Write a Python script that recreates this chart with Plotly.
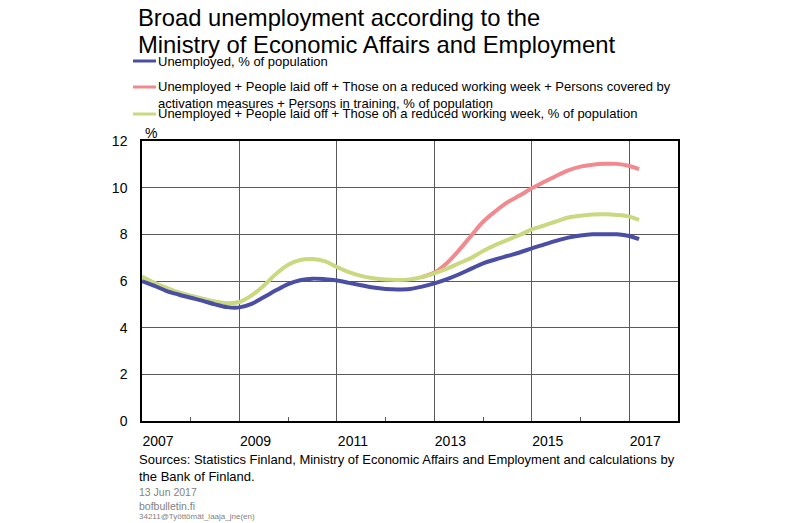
import pandas as pd
import plotly.graph_objects as go

# Quarterly readings, Jan 2007 .. Jan 2017, plus the last point in March 2017
dates = list(pd.date_range("2007-01-01", "2017-01-01", freq="QS")) + [pd.Timestamp("2017-03-15")]

unemployed = [6.00, 5.80, 5.58, 5.42, 5.28, 5.15, 5.00, 4.88,
              4.87, 5.02, 5.30, 5.60, 5.87, 6.03, 6.10, 6.08,
              6.02, 5.92, 5.82, 5.72, 5.66, 5.64, 5.66, 5.76,
              5.90, 6.07, 6.28, 6.52, 6.76, 6.92, 7.07, 7.22,
              7.40, 7.56, 7.72, 7.86, 7.95, 8.00, 8.00, 8.00,
              7.93, 7.79]

laid_off = [6.19, 5.93, 5.72, 5.52, 5.37, 5.24, 5.12, 5.05,
            5.10, 5.38, 5.80, 6.30, 6.70, 6.90, 6.94, 6.85,
            6.60, 6.38, 6.22, 6.12, 6.06, 6.04, 6.07, 6.17,
            6.33, 6.52, 6.75, 6.98, 7.29, 7.54, 7.76, 7.97,
            8.21, 8.37, 8.55, 8.72, 8.80, 8.85, 8.86, 8.83,
            8.76, 8.62]

# broad measure only from late 2012
broad_dates = dates[23:]
broad = [6.17, 6.36, 6.75, 7.30, 7.92, 8.54, 8.98, 9.37, 9.66,
         9.97, 10.24, 10.50, 10.74, 10.90, 10.98, 11.02, 11.02,
         10.93, 10.79]

year_ticks = ["2007-01-01", "2009-01-01", "2011-01-01", "2013-01-01", "2015-01-01", "2017-01-01"]
year_labels = ["2007", "2009", "2011", "2013", "2015", "2017"]
minor_ticks = ["2008-01-01", "2010-01-01", "2012-01-01", "2014-01-01", "2016-01-01"]

title_lines = ["Broad unemployment according to the", "Ministry of Economic Affairs and Employment"]
legend_names = [
    "Unemployed, % of population",
    "Unemployed + People laid off + Those on a reduced working week + Persons covered by<br>"
    "activation measures + Persons in training, % of population",
    "Unemployed + People laid off + Those on a reduced working week, % of population",
]

BLUE = "rgb(75,78,165)"
PINK = "rgb(242,137,142)"
GREEN = "rgb(202,216,128)"
GRID = "rgb(90,90,90)"
GREY_TXT = "rgb(130,130,130)"
FONT = "Liberation Sans, Arial, sans-serif"

# plot area in pixels
L, R, T, B = 142, 678, 141, 421


def px_x(x):
    return (x - L) / (R - L)


def px_y(y):
    return (B - y) / (B - T)


fig = go.Figure()
fig.add_trace(go.Scatter(x=broad_dates, y=broad, mode="lines", name=legend_names[1],
                         line=dict(color=PINK, width=4, shape="spline")))
fig.add_trace(go.Scatter(x=dates, y=laid_off, mode="lines", name=legend_names[2],
                         line=dict(color=GREEN, width=4, shape="spline")))
fig.add_trace(go.Scatter(x=dates, y=unemployed, mode="lines", name=legend_names[0],
                         line=dict(color=BLUE, width=4, shape="spline")))

fig.update_layout(
    width=800, height=523,
    margin=dict(l=L, r=800 - R, t=T, b=523 - B, autoexpand=False),
    plot_bgcolor="white", paper_bgcolor="white",
    showlegend=False,
    font=dict(family=FONT, color="black", size=14),
)

fig.update_xaxes(
    type="date", range=["2007-01-01", "2018-01-01"],
    tickvals=year_ticks, ticktext=year_labels,
    showgrid=True, gridcolor=GRID, gridwidth=1,
    showline=True, linecolor="black", linewidth=1.5, mirror=True,
    ticks="", ticklabelshift=16, ticklabelstandoff=6,
    tickfont=dict(size=14),
    minor=dict(tickvals=minor_ticks, ticks="inside", ticklen=4, tickcolor=GRID, showgrid=False),
)
fig.update_yaxes(
    range=[0, 12], dtick=2,
    showgrid=True, gridcolor=GRID, gridwidth=1,
    showline=True, linecolor="black", linewidth=1.5, mirror=True,
    ticks="", ticklabelstandoff=10, zeroline=False,
    tickfont=dict(size=14),
)

# title: two separate lines so the spacing matches the original (tighter than plotly's)
for i, line in enumerate(title_lines):
    fig.add_annotation(text=line, xref="paper", yref="paper", x=px_x(136), y=px_y(2 + 27 * i),
                       xanchor="left", yanchor="top", align="left", showarrow=False,
                       font=dict(size=23.8))

# hand-placed legend above the plot
legend_rows = [(61, 62, BLUE), (87, 95, PINK), (114, 114, GREEN)]
for (line_y, text_y, color), name in zip(legend_rows, legend_names):
    fig.add_shape(type="line", xref="paper", yref="paper",
                  x0=px_x(133), x1=px_x(156), y0=px_y(line_y), y1=px_y(line_y),
                  line=dict(color=color, width=3))
    fig.add_annotation(text=name, xref="paper", yref="paper", x=px_x(156), y=px_y(text_y),
                       xanchor="left", yanchor="middle", align="left", showarrow=False,
                       font=dict(size=13))

fig.add_annotation(text="%", xref="paper", yref="paper", x=px_x(151), y=px_y(133),
                   xanchor="center", yanchor="middle", showarrow=False, font=dict(size=14))

fig.add_annotation(text="Sources: Statistics Finland, Ministry of Economic Affairs and Employment and calculations by<br>"
                        "the Bank of Finland.",
                   xref="paper", yref="paper", x=px_x(137), y=px_y(450), xanchor="left", yanchor="top",
                   align="left", showarrow=False, font=dict(size=13))

fig.add_annotation(text="13 Jun 2017<br>bofbulletin.fi", xref="paper", yref="paper",
                   x=px_x(137), y=px_y(484), xanchor="left", yanchor="top", align="left",
                   showarrow=False, font=dict(size=10.5, color=GREY_TXT))
fig.add_annotation(text="34211@Työttömät_laaja_jne(en)", xref="paper", yref="paper",
                   x=px_x(137), y=px_y(510), xanchor="left", yanchor="top", align="left",
                   showarrow=False, font=dict(size=8, color=GREY_TXT))

# page body has a default 8px margin; drop it so the figure sits at the window corner
fig.write_html("out.html", config={"displayModeBar": False},
               post_script="document.body.style.margin='0';")
